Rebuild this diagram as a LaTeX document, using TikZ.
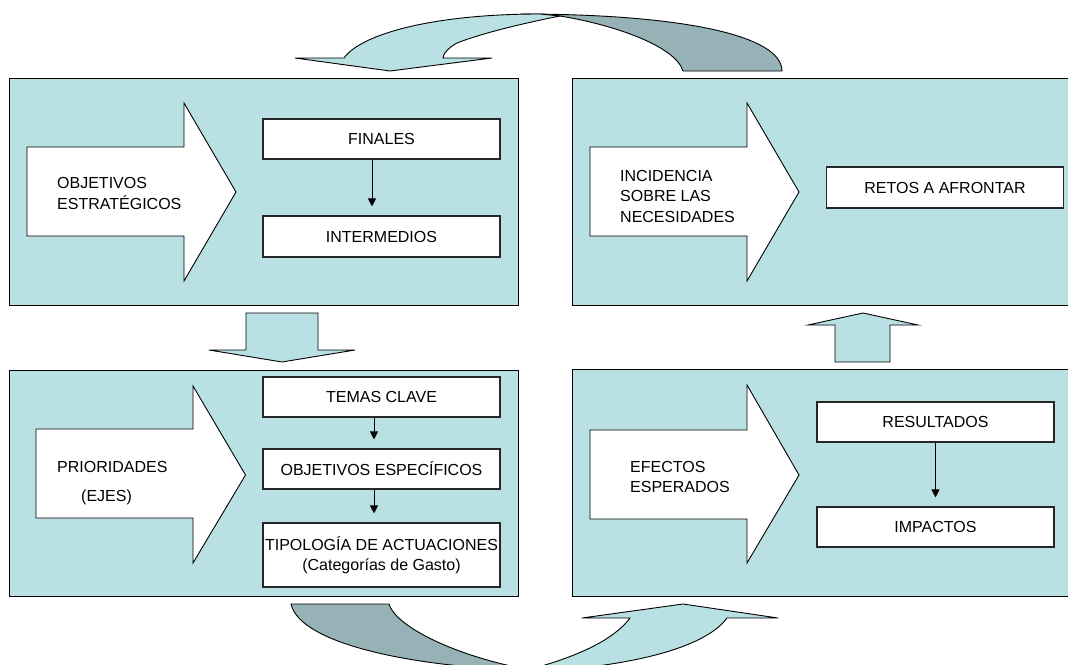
\documentclass[tikz,border=0pt]{standalone}
\usepackage{fontspec}
\setmainfont{Liberation Sans}
\usetikzlibrary{arrows.meta}
\definecolor{panelfill}{RGB}{185,224,227}
\definecolor{darkfill}{RGB}{150,178,182}
\begin{document}
\begin{tikzpicture}[x=1pt,y=-1pt,
  font=\fontsize{16pt}{20.5pt}\selectfont,
  panel/.style={draw=black, line width=1pt, fill=panelfill, inner sep=0pt},
  box/.style={draw=black!85, line width=1.1pt, fill=white, inner sep=0pt,
    minimum width=237pt, minimum height=40pt, align=center},
  blockarrow/.style={draw=black, line width=0.9pt, fill=white, line join=miter},
  bandlight/.style={draw=black, line width=0.9pt, fill=panelfill},
  banddark/.style={draw=black, line width=0.9pt, fill=darkfill},
  link/.style={-{Triangle[length=8pt,width=8pt]}, line width=0.9pt, shorten >=9pt},
  txt/.style={align=left, anchor=west, inner sep=0pt}]
\useasboundingbox (0,0) rectangle (1068,664);
\clip (0,0) rectangle (1068,664);

% panels
\node[panel, minimum width=509pt, minimum height=227pt] (tl) at (263.5,191.5) {};
\node[panel, minimum width=509pt, minimum height=226pt] (bl) at (263.5,483) {};
\node[panel, minimum width=510pt, minimum height=227pt] (tr) at (827,191.5) {};
\node[panel, minimum width=510pt, minimum height=227pt] (br) at (827,482.5) {};

% top curved arrow
\draw[banddark] (683,71) -- (782,71) .. controls (782,35) and (680,14) .. (520,14)
  -- (560,16) .. controls (610,24) and (675,45) .. (683,71) -- cycle;
\draw[bandlight] (344,58) .. controls (360,35) and (430,14) .. (540,14) -- (560,16)
  .. controls (530,22) and (485,32) .. (457,43)
  .. controls (448,48) and (443,54) .. (443,58)
  -- (492,58) -- (390,71) -- (295,58) -- cycle;

% bottom curved arrow
\draw[banddark] (291,604) -- (389,604) .. controls (395,625) and (450,655) .. (530,670)
  .. controls (420,668) and (300,645) .. (291,604) -- cycle;
\draw[bandlight] (630,618) -- (582,618) -- (683,604) -- (778,618) -- (727,618)
  .. controls (705,648) and (630,668) .. (515,673)
  .. controls (570,660) and (612,642) .. (630,618) -- cycle;

% arrows between panels
\draw[bandlight] (246,313) -- (318,313) -- (318,350) -- (355,350) -- (282,362)
  -- (209,350) -- (246,350) -- cycle;
\draw[bandlight] (835,362) -- (890,362) -- (890,325) -- (918,325) -- (863,313)
  -- (808,325) -- (835,325) -- cycle;

% block arrows
\draw[blockarrow] (27,147) -- (184,147) -- (184,103) -- (236,192) -- (184,281)
  -- (184,236) -- (27,236) -- cycle;
\draw[blockarrow] (36,429) -- (193,429) -- (193,386) -- (245.5,475) -- (193,563)
  -- (193,518) -- (36,518) -- cycle;
\draw[blockarrow] (590,147) -- (747,147) -- (747,103) -- (799,192) -- (747,281)
  -- (747,236) -- (590,236) -- cycle;
\draw[blockarrow] (590,430) -- (747,430) -- (747,385) -- (799,475) -- (747,563)
  -- (747,519) -- (590,519) -- cycle;

% block arrow texts
\node[txt] (objest) at (57,193.5) {OBJETIVOS\\ESTRATÉGICOS};
\node[txt] (prior) at (57,467) {PRIORIDADES};
\node[txt] (ejes) at (81,497) {(EJES)};
\node[txt] (incid) at (620,196) {INCIDENCIA\\SOBRE LAS\\NECESIDADES};
\node[txt] (efect) at (630,477) {EFECTOS\\ESPERADOS};

% boxes
\node[box] (finales) at (381.5,139) {FINALES};
\node[box, minimum height=41pt] (intermedios) at (381.5,236.5) {INTERMEDIOS};
\node[box] (temas) at (381.5,397) {TEMAS CLAVE};
\node[box] (objesp) at (381.5,469) {OBJETIVOS ESPECÍFICOS};
\node[box, minimum height=64pt] (tipo) at (381.5,555) {TIPOLOGÍA DE ACTUACIONES\\(Categorías de Gasto)};
\node[box, minimum height=41pt] (retos) at (945,187.5) {RETOS A AFRONTAR};
\node[box] (result) at (935.5,422) {RESULTADOS};
\node[box] (impact) at (935.5,527) {IMPACTOS};

% connectors
\draw[link] ([xshift=-9.5pt]finales.south) -- ([xshift=-9.5pt]intermedios.north);
\draw[link] ([xshift=-7.5pt]temas.south) -- ([xshift=-7.5pt]objesp.north);
\draw[link] ([xshift=-7.5pt]objesp.south) -- ([xshift=-7.5pt]tipo.north);
\draw[link] (result.south) -- (impact.north);
\end{tikzpicture}
\end{document}
